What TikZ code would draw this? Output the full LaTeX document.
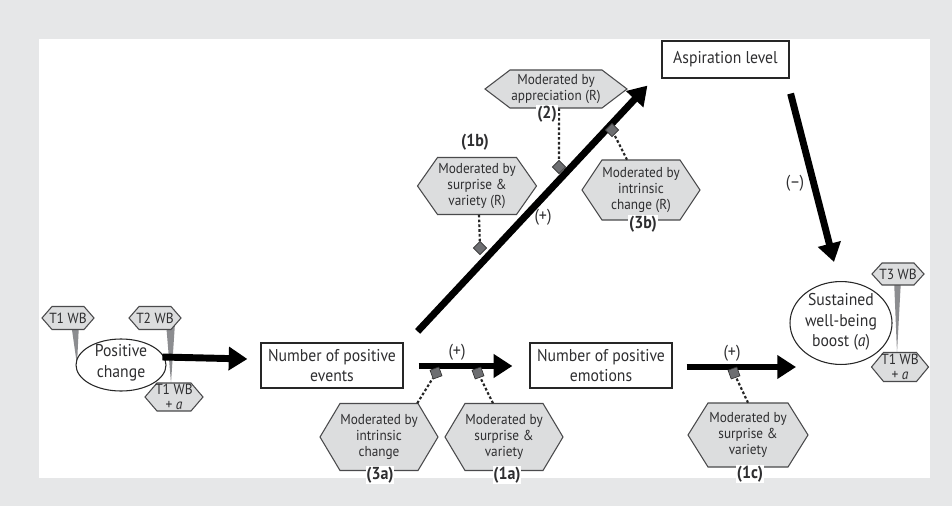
\documentclass[tikz,border=0pt]{standalone}
\usepackage{fontspec}
\setmainfont{PT Sans}[FakeStretch=0.92]
\usetikzlibrary{arrows.meta}
\definecolor{panel}{HTML}{E6E7E8}
\definecolor{hexf}{HTML}{DCDDDE}
\definecolor{hexd}{HTML}{4A4A4C}
\definecolor{txt}{HTML}{2E2E30}
\definecolor{diamf}{HTML}{6D6E71}
\definecolor{spikec}{HTML}{8C8D90}
\pgfdeclarelayer{back}
\pgfdeclarelayer{spikes}
\pgfsetlayers{back,spikes,main}
\newcommand\hexnode[8]{%
  \path[hexline] ({#2-#4/2},#3) -- ++(#6,{-#5/2}) -- ++({#4-2*#6},0) -- ++(#6,{#5/2})
     -- ++(-#6,{#5/2}) -- ++({2*#6-#4},0) -- cycle;
  \node[#7, minimum width=#4*0.75pt, minimum height=#5*0.75pt] (#1) at (#2,#3) {#8};}
\begin{document}
\begin{tikzpicture}[x=0.75pt,y=-0.75pt,
  boxn/.style={draw=black!85, line width=0.9pt, fill=white, align=center,
    font=\fontsize{12.8}{15.5}\selectfont, text=txt, inner sep=0pt},
  elline/.style={draw=black!85, line width=0.8pt, fill=white},
  elltext/.style={align=center, font=\fontsize{12.8}{15.5}\selectfont, text=txt, inner sep=0pt},
  hexline/.style={draw=hexd, fill=hexf, line width=0.8pt},
  hextext/.style={align=center, font=\fontsize{10.8}{11.7}\selectfont, text=txt, inner sep=0pt},
  wbtext/.style={align=center, font=\fontsize{11}{11}\selectfont, text=txt, inner sep=0pt},
  bigarrow/.style={line width=5.2pt, draw=black, -{Triangle[length=14pt,width=17pt]}},
  dotc/.style={line width=1.6pt, dash pattern=on 2pt off 1.6pt, draw=black!85},
  diam/.style={draw=black!80, fill=diamf, minimum size=7pt, inner sep=0pt, line width=0.5pt},
  numlab/.style={font=\bfseries\fontsize{13}{14}\selectfont, fill=white, inner sep=0.6pt, text=txt},
  signlab/.style={font=\fontsize{13}{14}\selectfont, text=txt, inner sep=0pt},
  spike/.style={fill=spikec}]
\begin{pgfonlayer}{back}
  \fill[panel] (0,0) rectangle (952,506);
  \fill[white] (39,39) rectangle (930,478);
\end{pgfonlayer}
\useasboundingbox (0,0) rectangle (952,506);

% ellipses
\draw[elline] (121,365) ellipse [x radius=33.75pt, y radius=19.5pt];
\node[elltext] (pc) at (121,363) {Positive\\change};
\draw[elline] (841,323) ellipse [x radius=38.25pt, y radius=31.1pt];
\node[elltext] (sw) at (841,322) {Sustained\\well-being\\boost (\textit{a})};

% boxes
\node[boxn, minimum width=106.5pt, minimum height=33.75pt] (ev) at (332,365.5) {Number of positive\\events};
\node[boxn, minimum width=106.5pt, minimum height=33.75pt] (em) at (601,365.5) {Number of positive\\emotions};
\node[boxn, minimum width=95.25pt, minimum height=27.75pt] (asp) at (725.5,59.5) {Aspiration level};

% well-being hexagons
\hexnode{t1}{68}{318}{52}{23}{10}{wbtext}{T1 WB}
\hexnode{t2}{155}{318}{52}{23}{10}{wbtext}{T2 WB}
\hexnode{t1a}{174}{397}{58}{28}{12}{wbtext}{T1 WB\\+ \textit{a}}
\hexnode{t3}{898}{274}{52}{22}{10}{wbtext}{T3 WB}
\hexnode{t1b}{900}{367}{57}{29}{12}{wbtext}{T1 WB\\+ \textit{a}}

% spikes
\begin{pgfonlayer}{spikes}
  \fill[spike] ([shift={(3,5)}]t1.center) -- ([shift={(11,5)}]t1.center) -- ([shift={(-44,2)}]pc.center) -- cycle;
  \fill[spike] ([shift={(11,5)}]t2.center) -- ([shift={(20,5)}]t2.center) -- ([shift={(-3,-14)}]t1a.center) -- cycle;
  \fill[spike] ([shift={(-4,5)}]t3.center) -- ([shift={(3,5)}]t3.center) -- ([shift={(-3,-14)}]t1b.center) -- cycle;
\end{pgfonlayer}

% moderator hexagons
\hexnode{h2}{556}{89}{142}{38}{25}{hextext}{Moderated by\\appreciation (R)}
\hexnode{h1b}{477}{186}{119}{57}{20}{hextext}{Moderated by\\surprise \&\\variety (R)}
\hexnode{h3b}{641}{190}{118}{60}{20}{hextext}{Moderated by\\intrinsic\\change (R)}
\hexnode{h3a}{379}{437}{118}{67}{20}{hextext}{Moderated by\\intrinsic\\change}
\hexnode{h1a}{504}{437}{118}{67}{20}{hextext}{Moderated by\\surprise \&\\variety}
\hexnode{h1c}{748}{435}{120}{64}{20}{hextext}{Moderated by\\surprise \&\\variety}

% big arrows
\draw[bigarrow] ([shift={(15,-6)}]pc.east) -- ([shift={(-13,-6.5)}]ev.west);
\draw[bigarrow] ([shift={(15,0.5)}]ev.east) -- ([shift={(-17,0.5)}]em.west);
\draw[bigarrow] ([shift={(14,1.5)}]em.east) -- ([shift={(-45,45)}]sw.center);
\draw[bigarrow] ([shift={(14,-11)}]ev.north east) -- ([shift={(-14,7)}]asp.south west);
\draw[bigarrow] ([shift={(1,15)}]asp.south east) -- ([shift={(-7,-60)}]sw.center);

% diamonds
\node[diam, rotate=45] (d1b) at (480,248) {};
\node[diam, rotate=45] (d2) at (559,167) {};
\node[diam, rotate=45] (d3b) at (612,130) {};
\node[diam, rotate=20] (d3a) at (436,373) {};
\node[diam, rotate=20] (d1a) at (478,373) {};
\node[diam, rotate=20] (d1c) at (734,373) {};

% dotted connectors
\draw[dotc] ([shift={(2,0)}]h1b.south) -- (d1b);
\draw[dotc] ([shift={(3,0)}]h2.south) -- (d2);
\draw[dotc] ([shift={(-14,0)}]h3b.north) -- (d3b);
\draw[dotc] ([shift={(-21,0)}]h3a.north east) -- (d3a);
\draw[dotc] ([shift={(-11,0)}]h1a.north) -- (d1a);
\draw[dotc] (h1c.north) -- (d1c);

% labels
\node[numlab] (l1b) at (475,142) {(1b)};
\node[numlab] (l2) at (547,114) {(2)};
\node[numlab] (l3b) at (643,224) {(3b)};
\node[numlab] (l3a) at (380,475) {(3a)};
\node[numlab] (l1a) at (507,475) {(1a)};
\node[numlab] (l1c) at (750,474) {(1c)};
\node[signlab] (s1) at (457,352) {(+)};
\node[signlab] (s2) at (732,353) {(+)};
\node[signlab] (s3) at (543,217) {(+)};
\node[signlab] (s4) at (795,183) {(–)};
\end{tikzpicture}
\end{document}
